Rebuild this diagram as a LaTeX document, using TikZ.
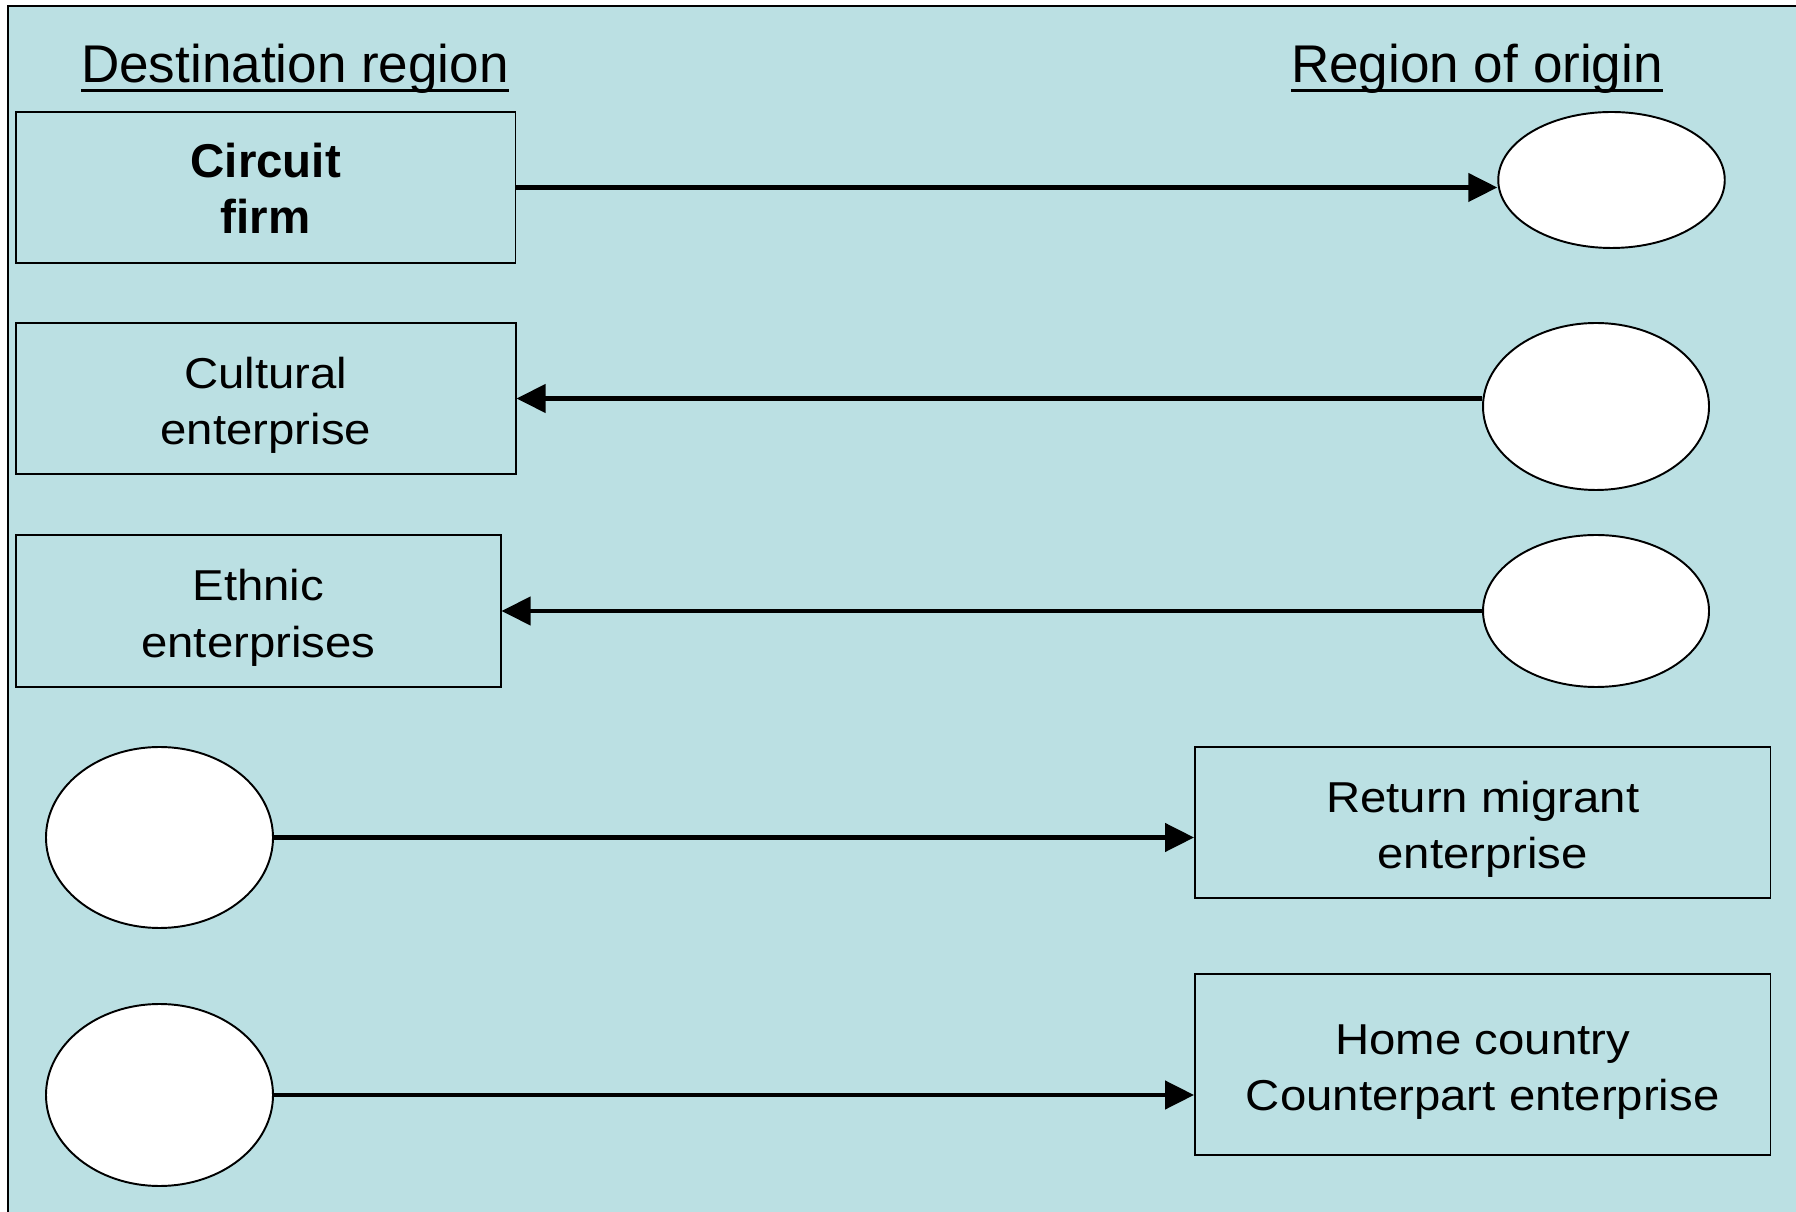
\documentclass[tikz,border=0pt]{standalone}
\usepackage{fontspec}
\setmainfont{Liberation Sans}
\newfontfamily\widesans[FakeStretch=1.095]{Liberation Sans}
\usetikzlibrary{arrows.meta,shapes.geometric}
\definecolor{paneblue}{RGB}{187,224,227}
\newcommand{\toprow}{\rule{0pt}{26.5pt}}
\newcommand{\lastrow}{\rule[-6pt]{0pt}{6pt}}

\begin{document}
\begin{tikzpicture}[scale=1,
  firmbox/.style={draw,line width=1.1pt,fill=paneblue,align=center,inner sep=0pt,
    font=\widesans\fontsize{24.6pt}{32.4pt}\selectfont},
  blank/.style={draw,ellipse,line width=1.1pt,fill=white,inner sep=0pt},
  link/.style={line width=2.3pt,-{Triangle[length=16.5pt,width=16pt]}},
  heading/.style={inner sep=0pt,anchor=base,font=\fontsize{30.2pt}{36pt}\selectfont}]
\useasboundingbox (0,0) rectangle (35.92,24.22);
\draw [line width=1.1pt,fill=paneblue] (0.154,-1) rectangle (37,24.1);
% column titles
\node [heading] (desthead) at (5.9,22.56) {Destination region};
\node [heading] (orighead) at (29.54,22.56) {Region of origin};
\draw [line width=1.7pt] ([yshift=-4.5pt]desthead.base west) -- ([yshift=-4.5pt]desthead.base east);
\draw [line width=1.7pt] ([yshift=-4.5pt]orighead.base west) -- ([yshift=-4.5pt]orighead.base east);
% enterprises
\node [firmbox,minimum width=9.99cm,minimum height=3.02cm,font=\bfseries\fontsize{27pt}{32pt}\selectfont] (circuit) at (5.315,20.47) {\toprow Circuit\\ firm\lastrow};
\node [firmbox,minimum width=9.99cm,minimum height=3.02cm] (cultural) at (5.317,16.25) {\toprow Cultural\\ enterprise\lastrow};
\node [firmbox,minimum width=9.69cm,minimum height=3.04cm] (ethnic) at (5.167,12.0) {\toprow Ethnic\\ enterprises\lastrow};
\node [firmbox,minimum width=11.51cm,minimum height=3.02cm] (return) at (29.655,7.77) {\toprow Return migrant\\ enterprise\lastrow};
\node [firmbox,minimum width=11.51cm,minimum height=3.62cm] (home) at (29.655,2.93) {\toprow Home country\\ Counterpart enterprise\lastrow};
% empty ovals
\node [blank,minimum width=4.53cm,minimum height=2.72cm] (orig1) at (32.23,20.62) {};
\node [blank,minimum width=4.52cm,minimum height=3.34cm] (orig2) at (31.92,16.09) {};
\node [blank,minimum width=4.52cm,minimum height=3.04cm] (orig3) at (31.92,12.0) {};
\node [blank,minimum width=4.54cm,minimum height=3.62cm] (dest1) at (3.19,7.47) {};
\node [blank,minimum width=4.54cm,minimum height=3.64cm] (dest2) at (3.19,2.32) {};
% flows
\draw [link] (circuit.east) -- (circuit.east -| orig1.west);
\draw [link] (cultural.east -| orig2.west) -- (cultural.east);
\draw [link] (orig3.west) -- (ethnic.east);
\draw [link] (dest1.east) -- (dest1.east -| return.west);
\draw [link] (dest2.east) -- (dest2.east -| home.west);
\end{tikzpicture}
\end{document}
